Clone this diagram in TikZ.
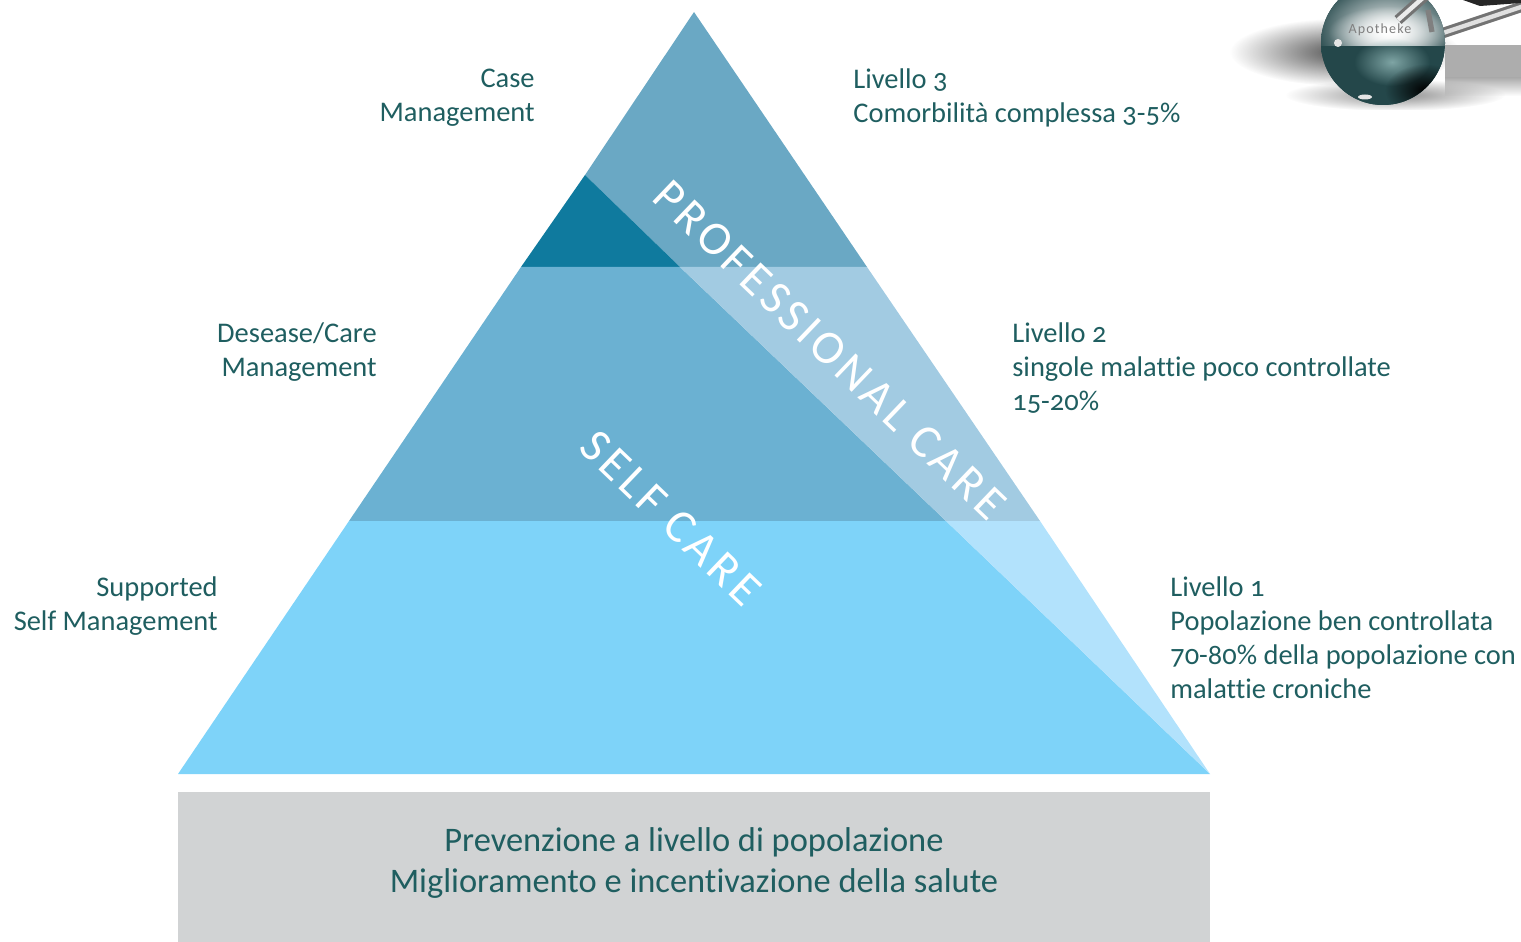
\documentclass[tikz,border=0pt]{standalone}
\usepackage{fontspec}
\setmainfont[Numbers=OldStyle,Ligatures=NoCommon]{Carlito}
\usetikzlibrary{fadings}
\tikzfading[name=softblob, inner color=transparent!0, outer color=transparent!100]
\definecolor{textgreen}{HTML}{1F5E60}
\definecolor{topdark}{HTML}{0F7A9E}
\definecolor{toplight}{HTML}{6AA8C4}
\definecolor{middark}{HTML}{6BB1D2}
\definecolor{midlight}{HTML}{A2CBE2}
\definecolor{lowdark}{HTML}{7ED3F9}
\definecolor{lowlight}{HTML}{B2E2FC}
\definecolor{basegrey}{HTML}{D1D3D4}
\definecolor{balldark}{HTML}{24474A}
\definecolor{ballpatch}{HTML}{7FA5A5}
\tikzset{
  sidelabel/.style={text=textgreen, font=\fontsize{16.2}{19.35}\selectfont, inner sep=0pt},
  leftlabel/.style={sidelabel, align=right, anchor=east},
  rightlabel/.style={sidelabel, align=left, anchor=west},
  carelabel/.style={text=white, font=\fontsize{27}{30}\selectfont\addfontfeature{LetterSpace=9}, rotate=-43.8, inner sep=0pt},
  softshadow/.style={path fading=softblob},
}
\begin{document}
\begin{tikzpicture}[x=0.02cm,y=-0.02cm]
        \useasboundingbox (0,0) rectangle (1521,942);

        % Pyramid, top level
        \fill[toplight] (694,12) -- (867,267) -- (680,267) -- (585,175) -- cycle;
        \fill[topdark] (585,175) -- (680,267) -- (521,267) -- cycle;

        % Pyramid, middle level
        \fill[middark] (521,267) -- (680,267) -- (946,521) -- (349,521) -- cycle;
        \fill[midlight] (680,267) -- (867,267) -- (1040,521) -- (946,521) -- cycle;

        % Pyramid, bottom level
        \fill[lowdark] (349,521) -- (946,521) -- (1210,774) -- (178,774) -- cycle;
        \fill[lowlight] (946,521) -- (1040,521) -- (1210,774) -- cycle;

        % Base
        \fill[basegrey] (178,792) rectangle (1210,942);
        \node[text=textgreen, font=\fontsize{19.6}{23.9}\selectfont, align=center, inner sep=0pt] (prevenzione) at (694,863)
            {Prevenzione a livello di popolazione\\Miglioramento e incentivazione della salute};

        % Diagonal texts
        \node[carelabel] (professional) at (830,350) {PROFESSIONAL CARE};
        \node[carelabel] (selfcare) at (671,518) {SELF CARE};

        % Left labels
        \node[leftlabel] (casemgmt) at (535,98) {Case\\Management};
        \node[leftlabel] (diseasemgmt) at (377,352) {Desease/Care\\Management};
        \node[leftlabel] (selfmgmt) at (218,606) {Supported\\Self Management};

        % Right labels
        \node[rightlabel] (livello3) at (853,98) {Livello 3\\Comorbilità complessa 3-5\%};
        \node[rightlabel] (livello2) at (1012,368) {Livello 2\\singole malattie poco controllate\\15-20\%};
        \node[rightlabel] (livello1) at (1170,638) {Livello 1\\Popolazione ben controllata\\70-80\% della popolazione con\\malattie croniche};

        % Logo in the corner, shadows first
        \begin{scope}
            \clip (1225,0) rectangle (1521,110);
            \fill[black!70, softshadow] (1345,52) ellipse (115 and 34);
            \fill[black!32] (1445,45) rectangle (1521,78);
            \shade[top color=black!32, bottom color=white] (1445,78) rectangle (1521,96);
            \fill[black!45, softshadow] (1395,95) ellipse (110 and 16);

            % Handles
            \draw[black!55, line width=6pt] (1440,34) -- (1530,4);
            \draw[black!12, line width=2.5pt] (1440,34) -- (1530,4);
            \fill[black!85] (1463,0) -- (1521,0) -- (1521,3) -- (1480,6) -- cycle;

            % Ball
            \fill[balldark] (1383,43) circle (62);
            \begin{scope}
                \clip (1383,43) circle (62);
                \shade[inner color=white, outer color=balldark] (1388,30) ellipse (75 and 52);
                \fill[white, softshadow] (1390,32) ellipse (62 and 26);
                \fill[balldark] (1321,46) rectangle (1445,110);
                \fill[ballpatch, softshadow] (1392,62) ellipse (38 and 24);
                \fill[black, softshadow] (1425,90) ellipse (40 and 26);
                \draw[black!55, line width=6pt] (1398,20) -- (1425,-4);
                \draw[black!8, line width=2.5pt] (1398,20) -- (1425,-4);
                \draw[black!50, line width=3pt] (1428,10) -- (1432,32);
            \end{scope}
            \fill[white!90!black] (1338,43) circle (4);
            \fill[white!90!black] (1365,97) ellipse (7 and 2.5);
            \node[text=black!50, font=\fontsize{8}{9}\selectfont\addfontfeature{LetterSpace=8}, inner sep=0pt] (apotheke) at (1380,30) {Apotheke};
        \end{scope}
    \end{tikzpicture}
\end{document}
